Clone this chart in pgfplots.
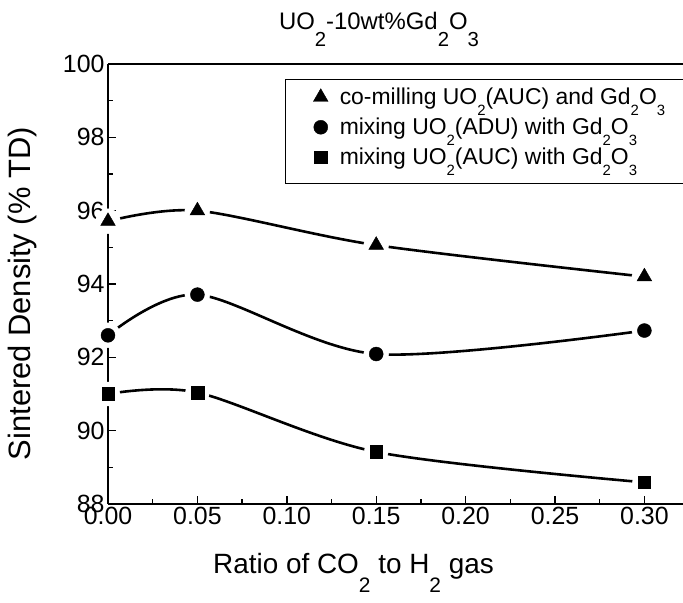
\documentclass[border=0pt]{standalone}
\usepackage{graphicx}
\usepackage{pgfplots}
\pgfplotsset{compat=1.18}
\usepackage{fontspec}
\setmainfont{Liberation Sans}
\newcommand{\dn}[3]{\raisebox{-#1em}{\scalebox{#2}{#3}}}

\begin{document}
\begin{tikzpicture}[x=1bp,y=1bp]
\useasboundingbox (0,0) rectangle (683,603);
\begin{axis}[
  at={(108bp,99bp)}, anchor=south west,
  width=575bp, height=440bp, scale only axis,
  xmin=0, xmax=0.3216, ymin=88, ymax=100,
  axis x line*=box, axis y line*=left,
  xtick pos=left, ytick pos=left,
  axis line style={line width=1.6bp},
  tick style={line width=1.4bp, black},
  tick align=inside,
  major tick length=8bp, minor tick length=5bp,
  xtick={0,0.05,0.1,0.15,0.2,0.25,0.3},
  ytick={88,90,92,94,96,98,100},
  minor x tick num=1, minor y tick num=1,
  xticklabel style={/pgf/number format/.cd, fixed, fixed zerofill, precision=2},
  /pgf/number format/assume math mode=true,
  tick label style={font=\fontsize{25}{28}\selectfont},
  every axis x label/.style={at={(axis description cs:0.427,-0.157)}, anchor=base},
  every axis y label/.style={at={(axis description cs:-0.148,0.478)}, anchor=center, rotate=90},
  xlabel style={font=\fontsize{28}{32}\selectfont},
  ylabel style={font=\fontsize{31}{35}\selectfont},
  xlabel={Ratio of CO\dn{0.68}{0.75}{2} to H\dn{0.68}{0.75}{2} gas},
  ylabel={Sintered Density (\% TD)},
  clip=false, axis on top,
  legend style={at={(axis description cs:0.308,0.967)}, anchor=north west,
    draw=black, line width=1.3bp, font=\fontsize{23}{26}\selectfont,
    inner xsep=27bp, inner ysep=7bp, row sep=0bp,
    nodes={inner sep=2bp, anchor=west, draw=none}},
  legend cell align=left,
  legend image code/.code={%
    \path[draw=none, fill=none] (-8bp,-19bp) rectangle (17bp,9bp);
    \draw[#1] plot coordinates {(0bp,0bp)};},
]
% curves
\addplot[smooth, black, line width=2.6bp, forget plot] coordinates {(0,95.71) (0.05,96.0) (0.15,95.06) (0.30,94.2)};
\addplot[smooth, black, line width=2.6bp, forget plot] coordinates {(0,92.60) (0.05,93.71) (0.15,92.09) (0.30,92.73)};
\addplot[smooth, black, line width=2.6bp, forget plot] coordinates {(0,91.0) (0.05,91.04) (0.15,89.42) (0.30,88.59)};
% white discs that leave a gap round each marker
\addplot[only marks, white, mark=*, mark size=12.5bp, forget plot] coordinates {(0,95.71) (0.05,96.0) (0.15,95.06) (0.30,94.2)};
\addplot[only marks, white, mark=*, mark size=12.5bp, forget plot] coordinates {(0,92.60) (0.05,93.71) (0.15,92.09) (0.30,92.73)};
\addplot[only marks, white, mark=*, mark size=12bp, forget plot] coordinates {(0,91.0) (0.05,91.04) (0.15,89.42) (0.30,88.59)};
% markers
\addplot[only marks, mark=triangle*, mark size=8.5bp, mark options={black, fill=black, line width=0.4bp}] coordinates {(0,95.71) (0.05,96.0) (0.15,95.06) (0.30,94.2)};
\addlegendentry{co-milling UO\dn{0.45}{0.65}{2}(AUC) and Gd\dn{0.45}{0.65}{2}O\dn{0.45}{0.65}{3}}
\addplot[only marks, mark=*, mark size=7bp, mark options={black, fill=black, line width=0.4bp}] coordinates {(0,92.60) (0.05,93.71) (0.15,92.09) (0.30,92.73)};
\addlegendentry{mixing UO\dn{0.45}{0.65}{2}(ADU) with Gd\dn{0.45}{0.65}{2}O\dn{0.45}{0.65}{3}}
\addplot[only marks, mark=square*, mark size=6.3bp, mark options={black, fill=black, line width=0.4bp}] coordinates {(0,91.0) (0.05,91.04) (0.15,89.42) (0.30,88.59)};
\addlegendentry{mixing UO\dn{0.45}{0.65}{2}(AUC) with Gd\dn{0.45}{0.65}{2}O\dn{0.45}{0.65}{3}}
\end{axis}
\node[anchor=base, font=\fontsize{24}{28}\selectfont] at (379,573) {UO\dn{0.7}{0.85}{2}-10wt\%Gd\dn{0.7}{0.85}{2}O\dn{0.7}{0.85}{3}};
\end{tikzpicture}
\end{document}
